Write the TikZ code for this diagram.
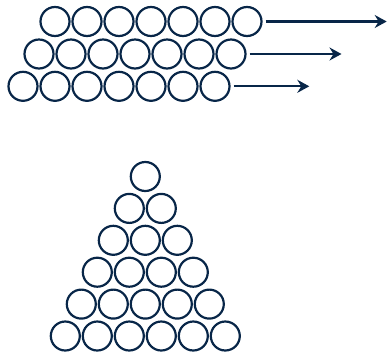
\documentclass[tikz,border=0pt]{standalone}
\usetikzlibrary{arrows.meta}
\definecolor{navy}{RGB}{8,38,72}
\begin{document}
\begin{tikzpicture}[x=1pt,y=-1pt,
  ball/.style={circle,draw=navy,line width=2.2pt,minimum size=29pt,inner sep=0pt},
  push/.style={draw=navy,line width=2.2pt,shorten <=3pt,
    -{Stealth[length=12pt,width=13pt,inset=4pt]}}]
\useasboundingbox (0,0) rectangle (387,357);
% three staggered rows of seven balls
\foreach \r/\x/\y in {1/55/21.5,2/39/54,3/23/86.3}{
  \foreach \i in {1,...,7}{
    \node[ball] (r\r c\i) at ({\x+32*(\i-1)},\y) {};
  }
}
\coordinate (t1) at (386.7,21.5);
\coordinate (t2) at (341.5,54);
\coordinate (t3) at (309.3,86.3);
\draw[push] (r1c7.east) -- (t1);
\draw[push] (r2c7.east) -- (t2);
\draw[push] (r3c7.east) -- (t3);
% triangular stack of balls
\foreach \k in {1,...,6}{
  \foreach \j in {1,...,\k}{
    \node[ball] (p\k q\j) at ({145.3-16*(\k-1)+32*(\j-1)},{176.5+31.9*(\k-1)}) {};
  }
}
\end{tikzpicture}
\end{document}
